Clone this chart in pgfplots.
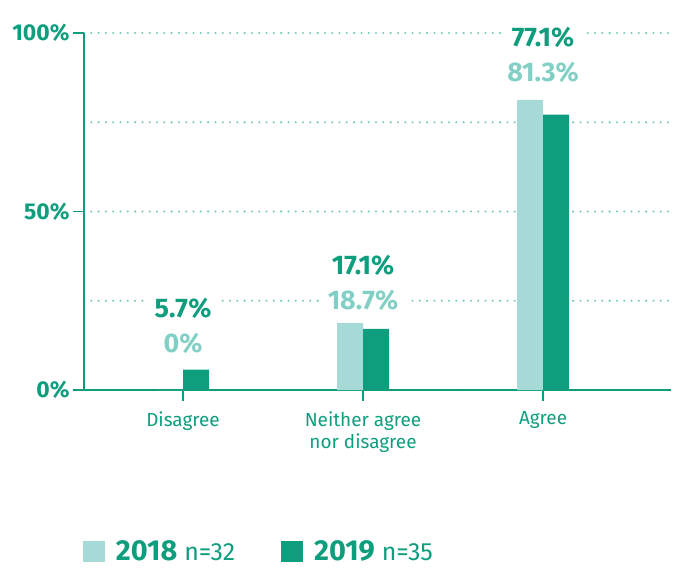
\documentclass[border=0pt]{standalone}
\usepackage{fontspec}
\setmainfont{Fira Sans}
\usepackage{pgfplots}
\pgfplotsset{compat=1.18}
\definecolor{dk}{HTML}{0E9E7E}
\definecolor{lt}{HTML}{A6DAD6}
\definecolor{lttext}{HTML}{82D0C5}
\definecolor{gridc}{HTML}{74C9C0}
\begin{document}
\begin{tikzpicture}
\begin{axis}[
  scale only axis, width=587bp, height=357bp,
  xmin=-0.55, xmax=2.711, ymin=0, ymax=100,
  axis x line=bottom, axis y line=left,
  axis line style={-, dk, line width=1.7pt},
  xtick={0,1,2},
  xticklabels={Disagree,{Neither agree\\nor disagree},Agree},
  xticklabel style={align=center, font=\fontsize{19}{22}\selectfont, text=dk, yshift=-7bp},
  ytick={0,50,100}, yticklabels={0\%,50\%,100\%},
  yticklabel style={font=\fontsize{23}{26}\selectfont\bfseries, text=dk},
  minor ytick={25,75},
  ymajorgrids, yminorgrids,
  major grid style={gridc, line width=2.3bp, line cap=round, dash pattern=on 0pt off 7.3bp},
  minor grid style={gridc, line width=2.3bp, line cap=round, dash pattern=on 0pt off 7.3bp},
  tick style={dk, line width=1.7pt},
  major tick length=11bp, minor tick length=0pt,
  tick align=outside,
  ybar, bar width=26bp,
  clip=false,
  legend columns=2,
  legend style={draw=none, at={(-0.0017,-0.452)}, anchor=west, inner sep=0pt, outer sep=0pt,
    nodes={inner ysep=0pt},
    text=dk, /tikz/every even column/.append style={column sep=44bp}},
]
\addplot[ybar, bar shift=-13bp, fill=lt, draw=none,
  legend image code/.code={\fill[lt] (0bp,-10.5bp) rectangle (22bp,10.5bp);}]
  coordinates {(0,0) (1,18.7) (2,81.3)};
\addlegendentry{\hspace{9bp}{\fontsize{29}{30}\selectfont\bfseries 2018}\hspace{7bp}{\fontsize{25}{26}\selectfont n=32}}
\addplot[ybar, bar shift=13bp, fill=dk, draw=none,
  legend image code/.code={\fill[dk] (0bp,-10.5bp) rectangle (22bp,10.5bp);}]
  coordinates {(0,5.7) (1,17.1) (2,77.1)};
\addlegendentry{\hspace{9bp}{\fontsize{29}{30}\selectfont\bfseries 2019}\hspace{7bp}{\fontsize{25}{26}\selectfont n=35}}

\tikzset{vl/.style={font=\fontsize{27}{29}\selectfont\bfseries, fill=white, inner xsep=8bp, inner ysep=1bp}}
\node[vl, text=dk] at (axis cs:0,23.0) {5.7\%};
\node[vl, text=lttext] at (axis cs:0,13.2) {0\%};
\node[vl, text=dk] at (axis cs:1,35.0) {17.1\%};
\node[vl, text=lttext] at (axis cs:1,25.2) {18.7\%};
\node[vl, text=dk] at (axis cs:2,98.9) {77.1\%};
\node[vl, text=lttext] at (axis cs:2,89.1) {81.3\%};

\coordinate (bbA) at (rel axis cs:-0.1431,-0.4986);
\coordinate (bbB) at (rel axis cs:1.017,1.0924);
\end{axis}
\pgfresetboundingbox
\path[use as bounding box] (bbA) rectangle (bbB);
\end{tikzpicture}
\end{document}
